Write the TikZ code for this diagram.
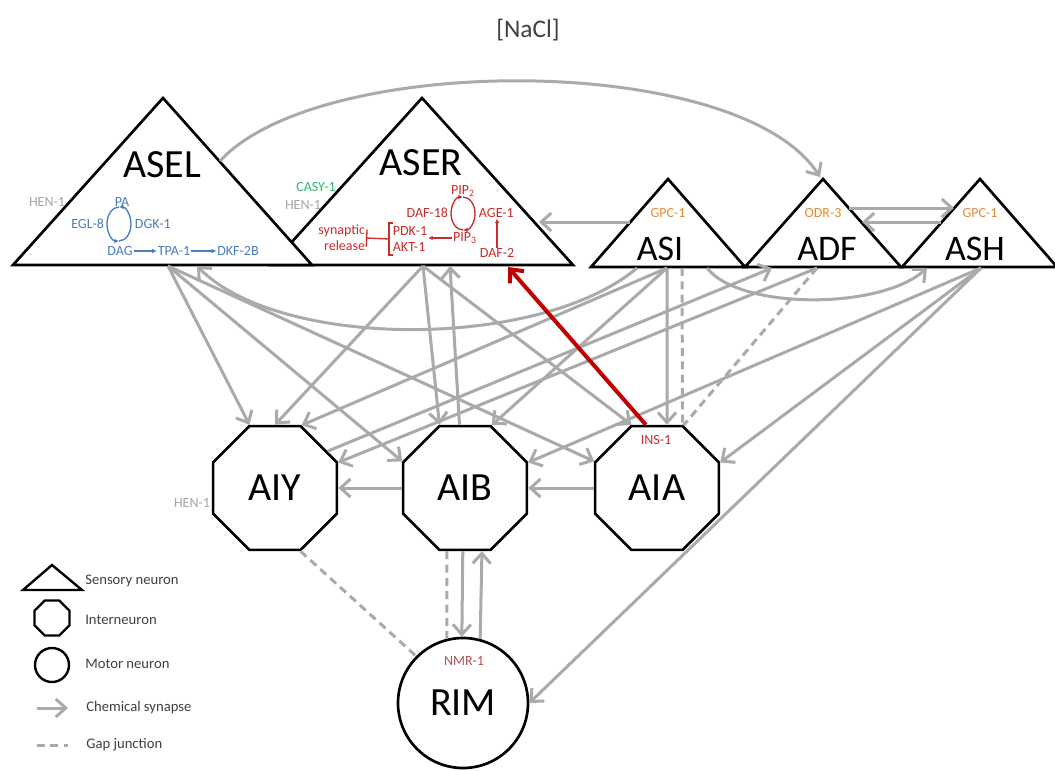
\documentclass[tikz,border=0pt]{standalone}
\usepackage{fontspec}
\setmainfont{Carlito}
\usetikzlibrary{arrows.meta, shapes.geometric}

\definecolor{syngray}{RGB}{170,170,170}
\definecolor{pathblue}{RGB}{74,126,187}
\definecolor{pathred}{RGB}{200,45,45}
\definecolor{insred}{RGB}{192,0,0}
\definecolor{genorange}{RGB}{228,140,56}
\definecolor{gengreen}{RGB}{50,180,110}
\definecolor{gengray}{RGB}{165,165,165}
\definecolor{genbrown}{RGB}{175,85,85}
\definecolor{legtext}{RGB}{64,64,64}

\begin{document}
\begin{tikzpicture}[x=0.75pt, y=-0.75pt,
  soma/.style={draw, line width=2pt, fill=white},
  inter/.style={soma, regular polygon, regular polygon sides=8, minimum size=100.5pt, inner sep=0pt, font=\fontsize{30}{30}\selectfont},
  motor/.style={soma, circle, minimum size=97.5pt, inner sep=0pt, font=\fontsize{30}{30}\selectfont},
  bigname/.style={font=\fontsize{30}{30}\selectfont, inner sep=0pt},
  smallname/.style={font=\fontsize{27}{27}\selectfont, inner sep=0pt},
  gene/.style={font=\fontsize{10.5}{12}\selectfont, inner sep=0.5pt},
  legend/.style={font=\fontsize{11}{13}\selectfont, text=legtext, anchor=west, inner sep=0pt},
  syn/.style={draw=syngray, line width=2.25pt, -{Straight Barb[length=7.5pt,width=13.5pt]}},
  gap/.style={draw=syngray, line width=2.25pt, dash pattern=on 6pt off 4pt},
  ins/.style={draw=insred, line width=3pt, -{Straight Barb[length=8pt,width=14pt]}},
  blu/.style={draw=pathblue, line width=1pt, -{Latex[length=3.5pt,width=3.5pt]}},
  rd/.style={draw=pathred, line width=1pt, -{Latex[length=3.5pt,width=3.5pt]}}
]
\fill[white] (0,0) rectangle (1055,770);
\useasboundingbox (0,0) rectangle (1055,770);

\node[font=\fontsize{19}{19}\selectfont, text=legtext] (nacl) at (528,30) {[NaCl]};

% sensory neurons
\draw[soma] (422,98) -- (573,265) -- (271,265) -- cycle;
\draw[soma] (163,98) -- (312,265) -- (13,265) -- cycle;
\draw[soma] (668,179) -- (745,267) -- (591,267) -- cycle;
\draw[soma] (823,179) -- (901,267) -- (745,267) -- cycle;
\draw[soma] (980,179) -- (1057,267) -- (902,267) -- cycle;

\node[bigname] (asel) at (162,165) {ASEL};
\node[bigname] (aser) at (421,163) {ASER};
\node[smallname] (asi) at (660,249) {ASI};
\node[smallname] (adf) at (827,249) {ADF};
\node[smallname] (ash) at (975,249) {ASH};

\coordinate (aselB) at (168,266);
\coordinate (aselC) at (197,266);
\coordinate (aselE) at (220,161);
\coordinate (aserB) at (423,266);
\coordinate (aserC) at (450,266);
\coordinate (aserD) at (508,267);
\coordinate (aserR) at (539,222);
\coordinate (asiL) at (630,222);
\coordinate (asiB) at (667,268);
\coordinate (asiG) at (682,268);
\coordinate (asiC) at (637,268);
\coordinate (asiD) at (707,268);
\coordinate (adfT) at (820,177);
\coordinate (adfB) at (817,268);
\coordinate (adfC) at (772,268);
\coordinate (adfR1) at (849,208);
\coordinate (adfR2) at (862,222);
\coordinate (ashL1) at (954,208);
\coordinate (ashL2) at (941,222);
\coordinate (ashB) at (981,268);
\coordinate (ashC) at (927,268);

% interneurons and motor neuron
\node[inter] (aiy) at (275,488) {AIY};
\node[inter] (aib) at (465,488) {AIB};
\node[inter] (aia) at (657,488) {AIA};
\node[motor] (rim) at (463,703) {RIM};

% genes
\node[gene, text=gengray] (hen1) at (47,202) {HEN-1};
\node[gene, text=gengreen] (casy1) at (316,187) {CASY-1};
\node[gene, text=gengray] (hen2) at (303,205) {HEN-1};
\node[gene, text=gengray] (hen3) at (192,503) {HEN-1};
\node[gene, text=genorange] (gpc1) at (668,213) {GPC-1};
\node[gene, text=genorange] (odr3) at (823,213) {ODR-3};
\node[gene, text=genorange] (gpc2) at (980,213) {GPC-1};
\node[gene, text=pathred] (ins1) at (656,440) {INS-1};
\node[gene, text=genbrown] (nmr1) at (464,661) {NMR-1};

% ASEL pathway
\node[gene, text=pathblue] (pa) at (122,202) {PA};
\node[gene, text=pathblue, anchor=east] (egl8) at (105,224) {EGL-8};
\node[gene, text=pathblue, anchor=west] (dgk1) at (134,224) {DGK-1};
\node[gene, text=pathblue] (dag) at (120,251) {DAG};
\node[gene, text=pathblue] (tpa1) at (174,251) {TPA-1};
\node[gene, text=pathblue] (dkf2b) at (238,251) {DKF-2B};
\draw[blu] (119,207) arc[start angle=270, end angle=90, x radius=12, y radius=17];
\draw[blu] (119,241) arc[start angle=90, end angle=-90, x radius=12, y radius=17];
\draw[blu] (dag) -- (tpa1);
\draw[blu] (tpa1) -- (dkf2b);

% ASER pathway
\node[gene, text=pathred] (pip2) at (463,191) {PIP\textsubscript{2}};
\node[gene, text=pathred, anchor=east] (daf18) at (449,213) {DAF-18};
\node[gene, text=pathred, anchor=west] (age1) at (478,213) {AGE-1};
\node[gene, text=pathred] (pip3) at (465,238) {PIP\textsubscript{3}};
\node[gene, text=pathred, align=left] (pdk1) at (410,239) {PDK-1\\AKT-1};
\node[gene, text=pathred] (daf2) at (497,253) {DAF-2};
\node[gene, text=pathred, align=right, anchor=east] (release) at (366,238) {synaptic\\release};
\draw[rd] (463,197) arc[start angle=-90, end angle=90, x radius=12, y radius=16.5];
\draw[rd] (463,230) arc[start angle=90, end angle=270, x radius=12, y radius=16.5];
\draw[rd] (daf2) -- (daf2 |- age1.south);
\draw[rd] (pip3) -- (pdk1.east |- pip3);
\draw[pathred, line width=1pt] (393,223) -| (389,255) -- (393,255);
\draw[pathred, line width=1pt, -{Bar[width=13pt]}] (389,239) -- (release.east);

% connections
\draw[syn] (aselE) .. controls (320,52) and (740,52) .. (adfT);
\draw[syn] (asiL) -- (aserR);
\draw[syn] (adfR1) -- (ashL1);
\draw[syn] (ashL2) -- (adfR2);
\draw[syn] (asiC) .. controls (540,350) and (280,350) .. (aselC);
\draw[syn] (asiD) .. controls (740,310) and (880,310) .. (ashC);

\draw[syn] (aselB) -- (aiy.112.5);
\draw[syn] (aselB) -- (aib.157.5);
\draw[syn] (aselB) -- (aia.157.5);
\draw[syn] (aserB) -- (aiy.90);
\draw[syn] (aserB) -- (aib.112.5);
\draw[syn] (aserB) -- (aia.112.5);
\draw[syn] (aib.95) -- (aserC);
\draw[syn] (asiB) -- (aia.81);
\draw[syn] (asiB) -- (aib.67.5);
\draw[syn] (asiB) -- (aiy.67.5);
\draw[gap] (asiG) -- (aia.68);
\draw[gap] (adfB) -- (aia.67.5);
\draw[syn] (adfB) -- (aiy.22.5);
\draw[syn] (aiy.35) -- (adfC);
\draw[syn] (ashB) -- (aib.22.5);
\draw[syn] (ashB) -- (aia.22.5);
\draw[syn] (ashB) -- (rim.east);

\draw[syn] (aib.west) -- (aiy.east);
\draw[syn] (aia.west) -- (aib.east);
\draw[gap] (aiy.292.5) -- (rim.135);
\draw[gap] (aib.254) -- (rim.104);
\draw[syn] (aib.268) -- (rim.91);
\draw[syn] (rim.75) -- (aib.285);

\draw[ins] (aia.100) -- (aserD);

% legend
\draw[soma, line width=1.8pt] (52,565) -- (82,590) -- (23,590) -- cycle;
\node[soma, line width=1.8pt, regular polygon, regular polygon sides=8, minimum size=28.4pt, inner sep=0pt] (leginter) at (52,618) {};
\node[soma, line width=1.8pt, circle, minimum size=25.5pt, inner sep=0pt] (legmotor) at (52,665) {};
\coordinate (legs1) at (37,708);
\coordinate (legs2) at (68,708);
\coordinate (legg1) at (37,745);
\coordinate (legg2) at (68,745);
\draw[syn] (legs1) -- (legs2);
\draw[gap] (legg1) -- (legg2);
\node[legend] (lsens) at (85,581) {Sensory neuron};
\node[legend] (lint) at (85,620) {Interneuron};
\node[legend] (lmot) at (85,664) {Motor neuron};
\node[legend] (lchem) at (86,708) {Chemical synapse};
\node[legend] (lgap) at (86,745) {Gap junction};
\end{tikzpicture}
\end{document}
